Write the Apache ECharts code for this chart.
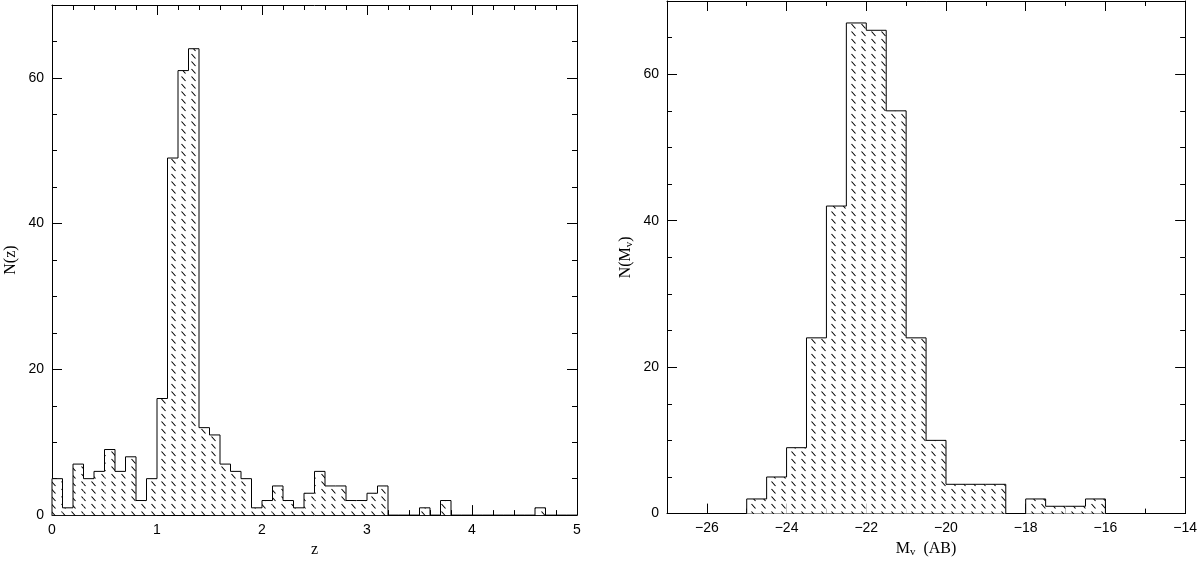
<!DOCTYPE html>
<html>
<head>
<meta charset="utf-8">
<script src="https://cdn.jsdelivr.net/npm/echarts@6/dist/echarts.min.js"></script>
<style>
  html, body { margin: 0; padding: 0; background: #fff; }
  #chart { width: 1200px; height: 563px; }
</style>
</head>
<body>
<div id="chart"></div>
<script>
// left panel: redshift histogram, bins of 0.1 starting at 0
const zStart = 0;
const zBinWidth = 0.1;
const zCounts = [
  5, 1, 7, 5, 6, 9, 6, 8, 2, 5,
  16, 49, 61, 64, 12, 11, 7, 6, 5, 1,
  2, 4, 2, 1, 3, 6, 4, 4, 2, 2,
  3, 4, 0, 0, 0, 1, 0, 2, 0, 0,
  0, 0, 0, 0, 0, 0, 1, 0, 0, 0
];

// right panel: absolute magnitude histogram, bins of 0.5 starting at -25
const mStart = -25;
const mBinWidth = 0.5;
const mCounts = [2, 5, 9, 24, 42, 67, 66, 55, 24, 10, 4, 4, 4, 0, 2, 1, 1, 2];

// tick labels / tick positions
const zMajorTicks = [0, 1, 2, 3, 4, 5];
const zMinorTicks = [0.2, 0.4, 0.6, 0.8, 1.2, 1.4, 1.6, 1.8, 2.2, 2.4, 2.6, 2.8,
                     3.2, 3.4, 3.6, 3.8, 4.2, 4.4, 4.6, 4.8];
const mMajorTicks = [-26, -24, -22, -20, -18, -16, -14];
const mMinorTicks = [-27, -25, -23, -21, -19, -17, -15];
const nMajorTicks = [0, 20, 40, 60];
const nMinorTicks = [5, 10, 15, 25, 30, 35, 45, 50, 55, 65];

// hatch pattern like the old mongo plots
const hatch = document.createElement('canvas');
hatch.width = 10;
hatch.height = 15;
const g = hatch.getContext('2d');
g.fillStyle = '#fff';
g.fillRect(0, 0, 10, 15);
g.strokeStyle = '#000';
g.lineWidth = 1.1;
g.beginPath();
g.moveTo(1.5, 1.5); g.lineTo(5.5, 6);
g.moveTo(1.5, 9); g.lineTo(5.5, 13.5);
g.stroke();
const hatchFill = { image: hatch, repeat: 'repeat' };

function binsOf(start, width, counts) {
  return counts.map((c, i) => [start + i * width, start + (i + 1) * width, c]);
}
function outlineOf(start, width, counts) {
  const pts = [[start, 0]];
  counts.forEach((c, i) => pts.push([start + i * width, c]));
  pts.push([start + counts.length * width, 0]);
  return pts;
}

const minus = v => String(v).replace('-', '\u2212');

function renderBin(params, api) {
  const a = api.coord([api.value(0), api.value(2)]);
  const b = api.coord([api.value(1), 0]);
  return {
    type: 'rect',
    shape: { x: a[0], y: a[1], width: b[0] - a[0], height: b[1] - a[1] },
    style: { fill: hatchFill }
  };
}

const lineStyle = { color: '#000', width: 1 };
const labelStyle = { color: '#000', fontFamily: 'Liberation Sans', fontSize: 14 };
const nameStyle = {
  color: '#000', fontFamily: 'Liberation Serif', fontSize: 16,
  rich: {
    a: { fontFamily: 'Liberation Serif', fontSize: 16, color: '#000' },
    s: { fontFamily: 'Liberation Serif', fontSize: 11, color: '#000', verticalAlign: 'bottom', padding: [8, 0, 0, 0] }
  }
};

// one main axis (labels, long ticks) + one minor axis (short ticks) per side
function axis(gridIndex, position, min, max, major, minor, isMinor, withLabel, extra) {
  const ticks = isMinor ? minor : major;
  return Object.assign({
    type: 'value',
    gridIndex: gridIndex,
    position: position,
    min: min,
    max: max,
    axisLine: { show: !isMinor, onZero: false, lineStyle: lineStyle },
    axisTick: { show: true, inside: true, length: isMinor ? 5 : 10, customValues: ticks, lineStyle: lineStyle },
    axisLabel: withLabel
      ? Object.assign({ customValues: major, formatter: minus, margin: 8 }, labelStyle)
      : { show: false },
    splitLine: { show: false }
  }, extra || {});
}

const chart = echarts.init(document.getElementById('chart'), null, { renderer: 'canvas' });

chart.setOption({
  animation: false,
  backgroundColor: '#fff',
  grid: [
    { left: 52, top: 5, width: 525, height: 524 },
    { left: 667, top: 1, width: 520, height: 518 }
  ],
  xAxis: [
    axis(0, 'bottom', 0, 5, zMajorTicks, zMinorTicks, false, true,
      { name: 'z', nameLocation: 'middle', nameGap: 20, nameTextStyle: nameStyle }),
    axis(0, 'bottom', 0, 5, zMajorTicks, zMinorTicks, true, false),
    axis(0, 'top', 0, 5, zMajorTicks, zMinorTicks, false, false),
    axis(0, 'top', 0, 5, zMajorTicks, zMinorTicks, true, false),
    axis(1, 'bottom', -27, -14, mMajorTicks, mMinorTicks, false, true,
      { name: '{a|M}{s|v}{a|  (AB)}', nameLocation: 'middle', nameGap: 22, nameTextStyle: nameStyle }),
    axis(1, 'bottom', -27, -14, mMajorTicks, mMinorTicks, true, false),
    axis(1, 'top', -27, -14, mMajorTicks, mMinorTicks, false, false),
    axis(1, 'top', -27, -14, mMajorTicks, mMinorTicks, true, false)
  ],
  yAxis: [
    axis(0, 'left', 0, 70, nMajorTicks, nMinorTicks, false, true,
      { name: 'N(z)', nameLocation: 'middle', nameGap: 33, nameTextStyle: nameStyle }),
    axis(0, 'left', 0, 70, nMajorTicks, nMinorTicks, true, false),
    axis(0, 'right', 0, 70, nMajorTicks, nMinorTicks, false, false),
    axis(0, 'right', 0, 70, nMajorTicks, nMinorTicks, true, false),
    axis(1, 'left', 0, 70, nMajorTicks, nMinorTicks, false, true,
      { name: '{a|N(M}{s|v}{a|)}', nameLocation: 'middle', nameGap: 32, nameTextStyle: nameStyle }),
    axis(1, 'left', 0, 70, nMajorTicks, nMinorTicks, true, false),
    axis(1, 'right', 0, 70, nMajorTicks, nMinorTicks, false, false),
    axis(1, 'right', 0, 70, nMajorTicks, nMinorTicks, true, false)
  ],
  series: [
    {
      type: 'custom', xAxisIndex: 0, yAxisIndex: 0,
      renderItem: renderBin,
      data: binsOf(zStart, zBinWidth, zCounts),
      z: 1
    },
    {
      type: 'line', xAxisIndex: 0, yAxisIndex: 0, step: 'end',
      showSymbol: false, symbol: 'none',
      lineStyle: lineStyle,
      data: outlineOf(zStart, zBinWidth, zCounts),
      z: 2
    },
    {
      type: 'custom', xAxisIndex: 4, yAxisIndex: 4,
      renderItem: renderBin,
      data: binsOf(mStart, mBinWidth, mCounts),
      z: 1
    },
    {
      type: 'line', xAxisIndex: 4, yAxisIndex: 4, step: 'end',
      showSymbol: false, symbol: 'none',
      lineStyle: lineStyle,
      data: outlineOf(mStart, mBinWidth, mCounts),
      z: 2
    }
  ]
});
</script>
</body>
</html>
